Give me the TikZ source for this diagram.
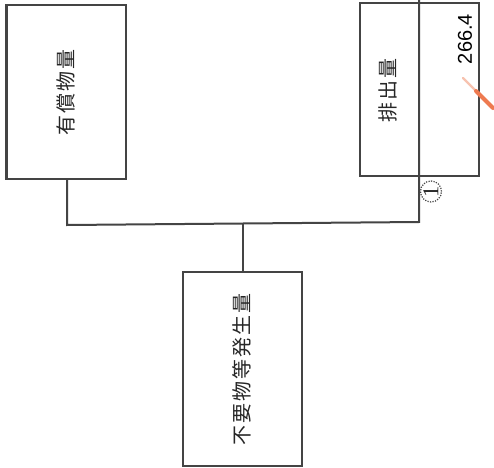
\documentclass[tikz,border=0pt]{standalone}
\usepackage{fontspec}
\setmainfont{Liberation Sans}
\newfontfamily\cjk[LetterSpace=10]{Noto Sans CJK JP}
\newfontfamily\serifnum{Liberation Serif}
\definecolor{ink}{HTML}{444444}
\definecolor{redmark}{HTML}{EE7A50}
\tikzset{
  px/.style={x=0.75pt,y=-0.75pt},
  wire/.style={draw=ink,line width=1.5pt},
  boxnode/.style={draw=ink,line width=1.5pt,inner sep=0pt,anchor=center},
  lab/.style={rotate=90,inner sep=0pt,text=black!85},
  cjklab/.style={lab,font=\cjk\fontsize{15}{15}\selectfont},
}
\begin{document}
\begin{tikzpicture}[px]
\useasboundingbox (0,0) rectangle (494,468);
\fill[white] (0,0) rectangle (494,468);
\node[boxnode,minimum width=89.25pt,minimum height=130.5pt] (lbox) at (66,92) {};
\node[boxnode,minimum width=89.25pt,minimum height=129.75pt] (rbox) at (419.5,89.5) {};
\node[boxnode,minimum width=89.25pt,minimum height=145.5pt] (bbox) at (242.5,369) {};
\coordinate (j1) at (67,225);
\coordinate (j2) at (419,222);
\coordinate (topend) at (419,0);
\coordinate (j3) at (243,224);
\coordinate (lstart) at (67,179);
\coordinate (bend) at (243,272);
\draw[wire] (lstart) -- (j1) -- (j2) -- (topend);
\draw[wire] (j3) -- (bend);
\node[cjklab] (a) at (65.5,92) {有償物量};
\node[cjklab] (b) at (388,90) {排出量};
\node[cjklab] (c) at (241.5,369.5) {不要物等発生量};
\node[lab,text=black,font=\fontsize{15}{15}\selectfont] (d) at (465,39) {266.4};
\node[circle,draw=ink,densely dotted,line width=0.9pt,minimum size=15.75pt,inner sep=0pt] (e) at (431,191.5) {};
\node[lab,font=\serifnum\fontsize{17}{17}\selectfont] (f) at (431,191.5) {1};
\coordinate (r1) at (463,78);
\coordinate (r2) at (476,91);
\coordinate (r3) at (493,108);
\draw[redmark!45,line width=1.8pt,line cap=round] (r1) -- (r2);
\draw[redmark,line width=3pt,line cap=round] (r2) -- (r3);
\end{tikzpicture}
\end{document}
